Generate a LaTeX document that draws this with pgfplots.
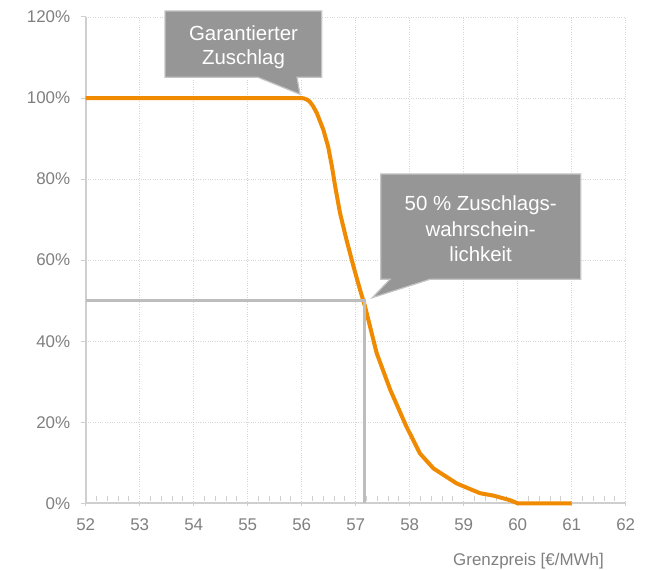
\documentclass[border=0pt]{standalone}
\usepackage{pgfplots}
\pgfplotsset{compat=1.18}
\usepackage{fontspec}
\setmainfont{Liberation Sans}
\definecolor{curveorange}{HTML}{F08A00}
\definecolor{refgray}{HTML}{BDBDBD}
\definecolor{boxgray}{HTML}{969696}
\definecolor{boxedge}{HTML}{C4C4C4}
\definecolor{tickgray}{HTML}{7F7F7F}
\definecolor{axisgray}{HTML}{CFCFCF}
\definecolor{gridgray}{HTML}{D6D6D6}
\begin{document}
\begin{tikzpicture}
\useasboundingbox (0,0) rectangle (650bp,570bp);
\begin{axis}[
  at={(85.7bp,66.7bp)}, anchor=south west,
  scale only axis, width=540bp, height=486.3bp,
  xmin=52, xmax=62, ymin=0, ymax=120,
  xtick={52,53,...,62}, ytick={0,20,...,120},
  minor x tick num=4,
  axis x line=bottom, axis y line=left,
  axis line style={-, draw=axisgray, line width=1.6bp},
  grid=major,
  major grid style={dotted, draw=gridgray, line width=0.8bp},
  tick align=outside,
  major tick length=5bp, minor tick length=5bp,
  tick style={draw=axisgray, line width=1bp},
  x tick style={yshift=2.5bp},
  minor x tick style={yshift=5bp},
  /pgf/number format/assume math mode=true,
  tick label style={font=\fontsize{17}{20}\selectfont, text=tickgray},
  xticklabel style={yshift=-7bp},
  yticklabel style={xshift=-7bp},
  yticklabel={\pgfmathprintnumber{\tick}\%},
  xlabel={Grenzpreis [€/MWh]},
  xlabel style={font=\fontsize{17}{20}\selectfont, text=tickgray, anchor=base east, inner sep=0pt, at={(axis description cs:0.9598,0)}, yshift=-62.5bp},
  clip=false,
]
\addplot[curveorange, line width=4bp, line join=round] coordinates {
(52,100) (56,100) (56.04,99.9) (56.1,99.6) (56.15,99.1) (56.21,98.0) (56.28,96.3) (56.4,92.2)
(56.49,88.0) (56.56,83.1) (56.62,78.2) (56.71,71.6) (56.83,65.0)
(56.96,58.4) (57.08,52.7) (57.17,48.7) (57.39,37.0) (57.64,28.0)
(57.94,18.9) (58.19,12.3) (58.44,8.6) (58.87,4.9) (59.3,2.5)
(59.55,1.9) (59.85,0.8) (60,0) (61,0)
};
\addplot[refgray, line width=3bp] coordinates {(52,50) (57.17,50) (57.17,0)};
\end{axis}
\begin{scope}[x=1bp, y=-1bp, yshift=570bp]
\filldraw[fill=boxgray, draw=boxedge, line width=1.2bp]
  (165,11) -- (321.7,11) -- (321.7,77.3) -- (297,77.3) -- (300,94.3) -- (258,77.3) -- (165,77.3) -- cycle;
\filldraw[fill=boxgray, draw=boxedge, line width=1.2bp]
  (380.7,174) -- (580.7,174) -- (580.7,279.3) -- (430,279.3) -- (372.3,297.7) -- (390,279.3) -- (380.7,279.3) -- cycle;
\begin{scope}[every node/.style={text=white, font=\fontsize{20.5}{25}\selectfont, anchor=base, inner sep=0pt}]
\node at (243.5,40.3) {Garantierter};
\node at (243.5,64.3) {Zuschlag};
\node at (480.7,210.7) {50 \% Zuschlags-};
\node at (480.7,236.7) {wahrschein-};
\node at (480.7,261.7) {lichkeit};
\end{scope}
\end{scope}
\end{tikzpicture}
\end{document}
